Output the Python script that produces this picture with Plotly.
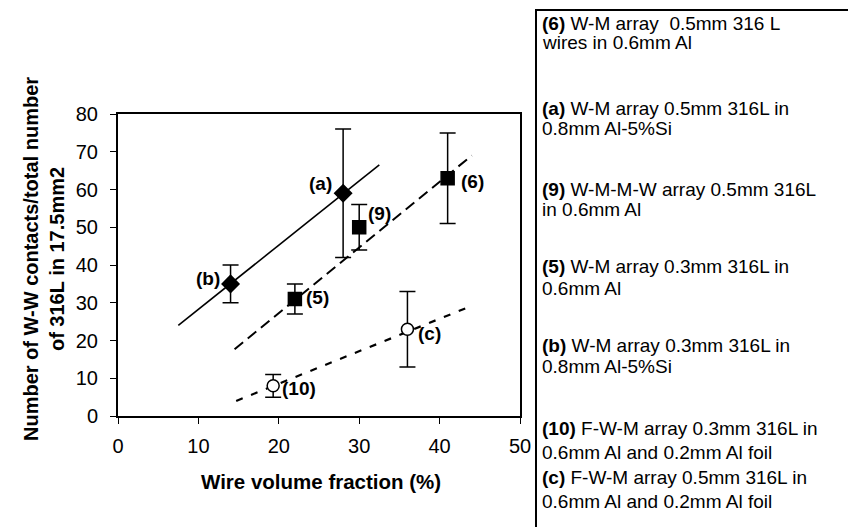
import plotly.graph_objects as go

# ---- data ----
dia_labels = ["(b)", "(a)"]
dia_x = [14, 28]
dia_y = [35, 59]
dia_up = [40, 76]
dia_lo = [30, 42]

sq_labels = ["(5)", "(9)", "(6)"]
sq_x = [22, 30, 41]
sq_y = [31, 50, 63]
sq_up = [35, 56, 75]
sq_lo = [27, 44, 51]

circ_labels = ["(10)", "(c)"]
circ_x = [19.3, 36]
circ_y = [8, 23]
circ_up = [11, 33]
circ_lo = [5, 13]

# trend lines (endpoints)
trend_solid_x = [7.5, 32.5]
trend_solid_y = [24, 66.5]
trend_dash_x = [14.5, 44]
trend_dash_y = [17.7, 69]
trend_dot_x = [14.7, 44]
trend_dot_y = [4, 29.2]

x_ticks = [0, 10, 20, 30, 40, 50]
y_ticks = [0, 10, 20, 30, 40, 50, 60, 70, 80]

legend_lines = [
    "<b>(6)</b> W-M array &nbsp;0.5mm 316 L", "wires in 0.6mm Al",
    "<b>(a)</b> W-M array 0.5mm 316L in", "0.8mm Al-5%Si",
    "<b>(9)</b> W-M-M-W array 0.5mm 316L", "in 0.6mm Al",
    "<b>(5)</b> W-M array 0.3mm 316L in", "0.6mm Al",
    "<b>(b)</b> W-M array 0.3mm 316L in", "0.8mm Al-5%Si",
    "<b>(10)</b> F-W-M array 0.3mm 316L in", "0.6mm Al and 0.2mm Al foil",
    "<b>(c)</b> F-W-M array 0.5mm 316L in", "0.6mm Al and 0.2mm Al foil",
]
legend_py = [23, 43, 108, 128, 189, 210, 266, 288, 345, 366, 428, 452, 477, 501]

FONT = "Liberation Sans, Arial, sans-serif"
W, H = 848, 527
PLOT_L, PLOT_R, PLOT_T, PLOT_B = 118, 520, 114, 416


def px(xp):
    return xp / W


def py(yp):
    return 1 - yp / H


fig = go.Figure()

for xs, ys, dash, w in [(trend_solid_x, trend_solid_y, "solid", 1.6),
                        (trend_dash_x, trend_dash_y, "11px,6px", 2),
                        (trend_dot_x, trend_dot_y, "7px,9px", 2.2)]:
    fig.add_trace(go.Scatter(x=xs, y=ys, mode="lines",
                             line=dict(color="black", width=w, dash=dash),
                             showlegend=False, hoverinfo="skip"))


def add_points(xs, ys, up, lo, symbol, fill, size):
    fig.add_trace(go.Scatter(
        x=xs, y=ys, mode="markers",
        marker=dict(symbol=symbol, size=size, color=fill,
                    line=dict(color="black", width=1.5)),
        error_y=dict(type="data", symmetric=False,
                     array=[u - y for u, y in zip(up, ys)],
                     arrayminus=[y - l for l, y in zip(lo, ys)],
                     color="black", thickness=1.5, width=8),
        showlegend=False))


add_points(dia_x, dia_y, dia_up, dia_lo, "diamond", "black", 13)
add_points(sq_x, sq_y, sq_up, sq_lo, "square", "black", 13)
add_points(circ_x, circ_y, circ_up, circ_lo, "circle", "white", 12)

# legend box frame drawn on a full-figure pixel overlay axis
fig.add_trace(go.Scatter(x=[W + 5, 536, 536], y=[10, 10, H + 5], mode="lines",
                         xaxis="x2", yaxis="y2",
                         line=dict(color="black", width=2),
                         showlegend=False, hoverinfo="skip", cliponaxis=False))

ann = []
label_font = dict(family=FONT, size=19, color="black")
offsets = {"(b)": ("right", -9, 5), "(a)": ("right", -9, 10),
           "(5)": ("left", 9, 1), "(9)": ("left", 7, 14),
           "(6)": ("left", 11, -3), "(10)": ("left", 7, -3),
           "(c)": ("left", 9, -4)}
for labs, xs, ys in [(dia_labels, dia_x, dia_y), (sq_labels, sq_x, sq_y),
                     (circ_labels, circ_x, circ_y)]:
    for lab, x, y in zip(labs, xs, ys):
        anc, dx, dy = offsets[lab]
        ann.append(dict(x=x, y=y, xref="x", yref="y", text="<b>%s</b>" % lab,
                        showarrow=False, xanchor=anc, yanchor="middle",
                        xshift=dx, yshift=dy, font=label_font))

ann.append(dict(x=px(321), y=py(482), xref="paper", yref="paper",
                text="<b>Wire volume fraction (%)</b>", showarrow=False,
                xanchor="center", yanchor="middle",
                font=dict(family=FONT, size=20.5, color="black")))
ann.append(dict(x=px(44), y=py(259), xref="paper", yref="paper",
                text="<b>Number of W-W contacts/total number<br>of 316L in 17.5mm2</b>",
                showarrow=False, textangle=-90, xanchor="center", yanchor="middle",
                font=dict(family=FONT, size=20, color="black")))

for t, yp in zip(legend_lines, legend_py):
    ann.append(dict(x=px(540), y=py(yp), xref="paper", yref="paper", text=t,
                    showarrow=False, xanchor="left", yanchor="middle",
                    font=dict(family=FONT, size=19, color="black")))

axis_common = dict(showgrid=False, zeroline=False, showline=True, linecolor="black",
                   linewidth=2, mirror=True, ticks="outside", ticklen=6,
                   tickwidth=1, tickcolor="black", automargin=False,
                   tickfont=dict(family=FONT, size=20, color="black"))

fig.update_layout(
    width=W, height=H,
    margin=dict(l=0, r=0, t=0, b=0, pad=0, autoexpand=False),
    paper_bgcolor="white", plot_bgcolor="rgba(0,0,0,0)",
    xaxis=dict(range=[0, 50], tickvals=x_ticks, ticklabelstandoff=5,
               domain=[px(PLOT_L), px(PLOT_R)], **axis_common),
    yaxis=dict(range=[0, 80], tickvals=y_ticks, ticklabelstandoff=8,
               domain=[py(PLOT_B), py(PLOT_T)], **axis_common),
    xaxis2=dict(domain=[0, 1], range=[0, W], visible=False, anchor="y2",
                fixedrange=True),
    yaxis2=dict(domain=[0, 1], range=[H, 0], visible=False, anchor="x2",
                fixedrange=True),
    annotations=ann, showlegend=False,
)

fig.write_html("out.html")
